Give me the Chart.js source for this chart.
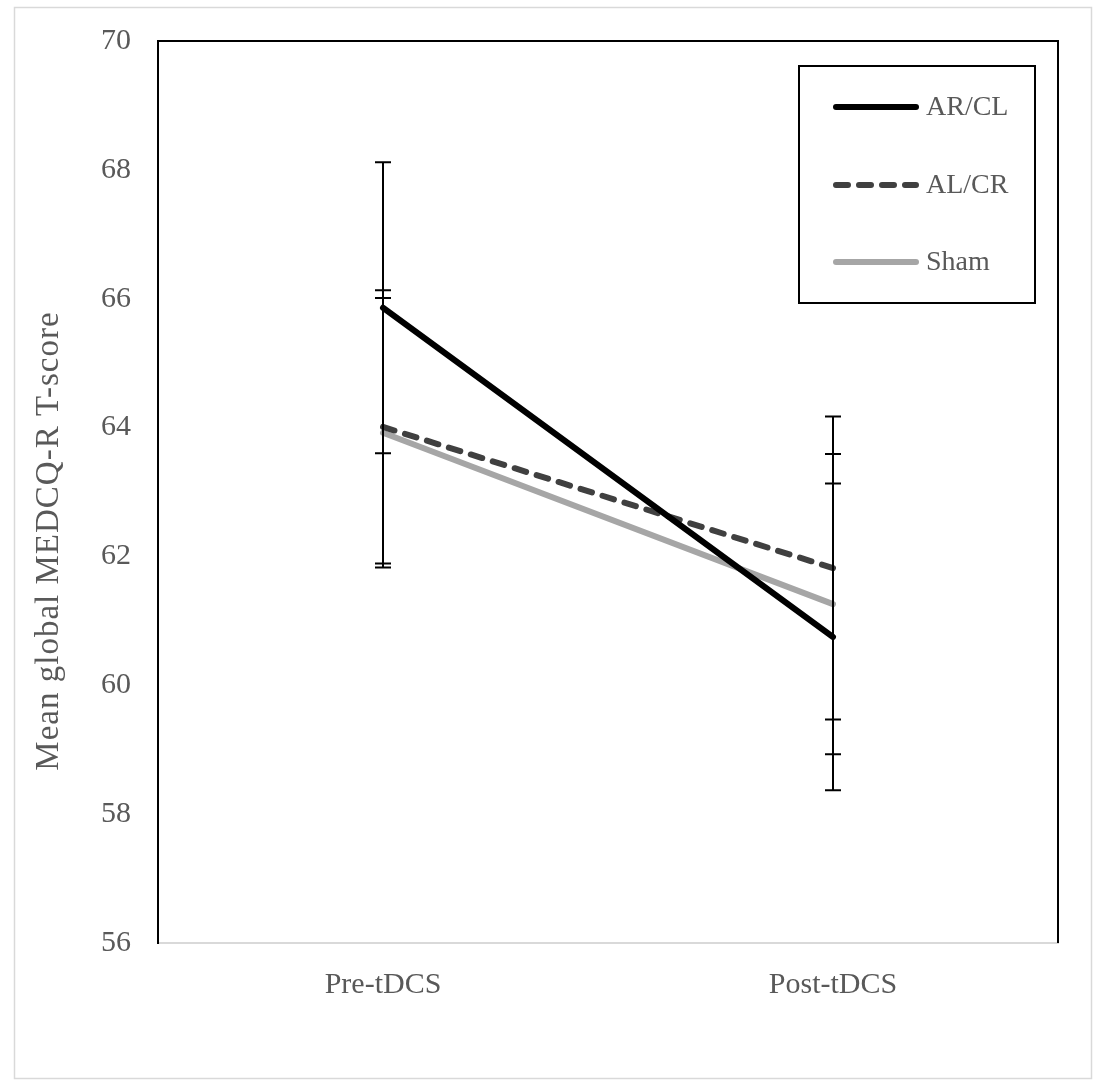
<!DOCTYPE html>
<html>
<head>
<meta charset="utf-8">
<script src="https://cdn.jsdelivr.net/npm/chart.js@4.4.0/dist/chart.umd.min.js"></script>
<style>
  html, body { margin: 0; padding: 0; background: #ffffff; }
  #wrap { width: 1094px; height: 1080px; position: relative; }
</style>
</head>
<body>
<div id="wrap"><canvas id="c" width="1094" height="1080"></canvas></div>
<script>
// ---- data ----
const categories = ['Pre-tDCS', 'Post-tDCS'];
const seriesNames = ['AR/CL', 'AL/CR', 'Sham'];
const arclValues = [65.86, 60.75];
const alcrValues = [64.01, 61.82];
const shamValues = [63.92, 61.26];
const arclErrors = [2.26, 2.38];
const alcrErrors = [2.12, 2.35];
const shamErrors = [2.09, 2.33];
const yTicks = [56, 58, 60, 62, 64, 66, 68, 70];
const yTitle = 'Mean global MEDCQ-R T-score';

const SERIF = '"Liberation Serif", "Times New Roman", serif';
const TEXT = '#595959';

const frame = {
  id: 'frame',
  beforeDraw(chart) {
    const ctx = chart.ctx;
    ctx.save();
    ctx.fillStyle = '#ffffff';
    ctx.fillRect(0, 0, chart.width, chart.height);
    ctx.strokeStyle = '#d9d9d9';
    ctx.lineWidth = 1.5;
    ctx.strokeRect(14.5, 7.5, 1077, 1071);
    ctx.restore();
  },
  afterDraw(chart) {
    const ctx = chart.ctx;
    const a = chart.chartArea;
    ctx.save();
    ctx.strokeStyle = '#000000';
    ctx.lineWidth = 2;
    ctx.beginPath();
    ctx.moveTo(a.left, a.bottom);
    ctx.lineTo(a.left, a.top);
    ctx.lineTo(a.right, a.top);
    ctx.lineTo(a.right, a.bottom);
    ctx.stroke();
    // y title
    ctx.fillStyle = TEXT;
    ctx.font = '33px ' + SERIF;
    if ('letterSpacing' in ctx) ctx.letterSpacing = '1px';
    ctx.textAlign = 'center';
    ctx.textBaseline = 'middle';
    ctx.translate(49, 541);
    ctx.rotate(-Math.PI / 2);
    ctx.fillText(yTitle, 0, 0);
    ctx.restore();
  }
};

const errorBars = {
  id: 'errorBars',
  afterDatasetsDraw(chart) {
    const ctx = chart.ctx;
    const x = chart.scales.x, y = chart.scales.y;
    ctx.save();
    ctx.strokeStyle = '#000000';
    ctx.lineWidth = 2;
    chart.data.datasets.forEach(ds => {
      ds.data.forEach((v, i) => {
        const e = ds.errors[i];
        const px = x.getPixelForValue(i);
        const top = y.getPixelForValue(v + e);
        const bot = y.getPixelForValue(v - e);
        ctx.beginPath();
        ctx.moveTo(px, top); ctx.lineTo(px, bot);
        ctx.moveTo(px - 8, top); ctx.lineTo(px + 8, top);
        ctx.moveTo(px - 8, bot); ctx.lineTo(px + 8, bot);
        ctx.stroke();
      });
    });
    ctx.restore();
  }
};

const legendBox = {
  id: 'legendBox',
  afterDraw(chart) {
    const ctx = chart.ctx;
    ctx.save();
    ctx.fillStyle = '#ffffff';
    ctx.fillRect(799, 66, 236, 237);
    ctx.strokeStyle = '#000000';
    ctx.lineWidth = 2;
    ctx.strokeRect(799, 66, 236, 237);
    const ys = [107, 185, 262];
    chart.data.datasets.forEach((ds, i) => {
      ctx.strokeStyle = ds.borderColor;
      ctx.lineWidth = 6;
      ctx.lineCap = 'round';
      ctx.setLineDash(ds.borderDash || []);
      ctx.beginPath();
      ctx.moveTo(836, ys[i]);
      ctx.lineTo(916, ys[i]);
      ctx.stroke();
      ctx.setLineDash([]);
      ctx.fillStyle = TEXT;
      ctx.font = '28px ' + SERIF;
      ctx.textAlign = 'left';
      ctx.textBaseline = 'middle';
      ctx.fillText(ds.label, 926, ys[i] + 1);
    });
    ctx.restore();
  }
};

new Chart(document.getElementById('c'), {
  type: 'line',
  data: {
    labels: categories,
    datasets: [
      { label: seriesNames[0], data: arclValues, errors: arclErrors, borderColor: '#000000', borderWidth: 6, borderCapStyle: 'round' },
      { label: seriesNames[1], data: alcrValues, errors: alcrErrors, borderColor: '#404040', borderWidth: 6, borderDash: [12, 11], borderCapStyle: 'round' },
      { label: seriesNames[2], data: shamValues, errors: shamErrors, borderColor: '#a6a6a6', borderWidth: 6, borderCapStyle: 'round' }
    ]
  },
  options: {
    responsive: false,
    animation: false,
    devicePixelRatio: 1,
    layout: { padding: { left: 0, top: 41, right: 36, bottom: 0 } },
    elements: { point: { radius: 0, hoverRadius: 0 }, line: { tension: 0 } },
    plugins: { legend: { display: false }, tooltip: { enabled: false } },
    scales: {
      x: {
        type: 'category',
        offset: true,
        grid: { display: false, drawTicks: false },
        border: { display: true, color: '#d9d9d9', width: 2 },
        ticks: { color: TEXT, font: { family: SERIF, size: 30 }, padding: 24 },
        afterFit(s) { s.height = 137; s.paddingLeft = 0; s.paddingRight = 0; }
      },
      y: {
        type: 'linear',
        min: 56, max: 70,
        afterBuildTicks(s) { s.ticks = yTicks.map(v => ({ value: v })); },
        grid: { display: false, drawTicks: false },
        border: { display: true, color: '#000000', width: 2 },
        ticks: { color: TEXT, font: { family: SERIF, size: 30 }, padding: 27 },
        afterFit(s) { s.width = 158; s.paddingTop = 0; s.paddingBottom = 0; }
      }
    }
  },
  plugins: [frame, errorBars, legendBox]
});
</script>
</body>
</html>
